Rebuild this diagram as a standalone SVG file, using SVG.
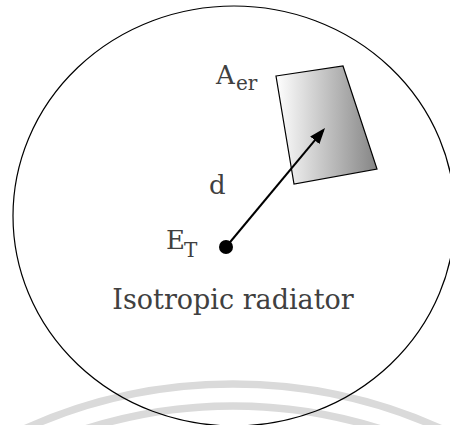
<svg xmlns="http://www.w3.org/2000/svg" width="450" height="425" viewBox="0 0 450 425">
  <style>
    .lbl { font-family: "DejaVu Serif", "Liberation Serif", serif; fill: #404040; }
    .main { font-size: 26px; }
    .big { font-size: 27px; }
    .sub { font-size: 20px; }
    .wave { fill: none; stroke: #dadada; stroke-width: 7.5; }
  </style>
  <defs>
    <linearGradient id="aperture" x1="0" y1="0" x2="1" y2="0">
      <stop offset="0" stop-color="#ffffff"/>
      <stop offset="1" stop-color="#858585"/>
    </linearGradient>
    <marker id="arrow" markerUnits="userSpaceOnUse" markerWidth="17" markerHeight="13" refX="13" refY="6" orient="auto">
      <path d="M0,0 L16,6 L0,12 Z" fill="#000"/>
    </marker>
  </defs>
  <rect width="450" height="425" fill="#ffffff"/>
  <g id="waves">
    <path class="wave" d="M 22 430 A 508 508 0 0 1 444 430"/>
    <path class="wave" d="M 82 430 A 486 486 0 0 1 384 430"/>
  </g>
  <g id="sphere">
    <ellipse cx="234" cy="216" rx="221" ry="210" fill="none" stroke="#000" stroke-width="1.2"/>
  </g>
  <g id="aperture-area">
    <polygon points="276,76 343,66 377,169 294,184" fill="url(#aperture)" stroke="#000" stroke-width="1.2"/>
  </g>
  <g id="connectors">
    <line x1="226" y1="247" x2="323.1" y2="130.3" stroke="#000" stroke-width="2" marker-end="url(#arrow)"/>
  </g>
  <g id="radiator">
    <circle cx="226" cy="247" r="7" fill="#000"/>
  </g>
  <g id="labels">
    <text class="lbl"><tspan class="main" x="216" y="84">A</tspan><tspan class="sub" x="236" y="90">er</tspan></text>
    <text class="lbl main" x="209" y="194">d</text>
    <text class="lbl"><tspan class="main" x="166" y="249">E</tspan><tspan class="sub" x="184" y="257">T</tspan></text>
    <text class="lbl big" x="233" y="309" text-anchor="middle">Isotropic radiator</text>
  </g>
</svg>
